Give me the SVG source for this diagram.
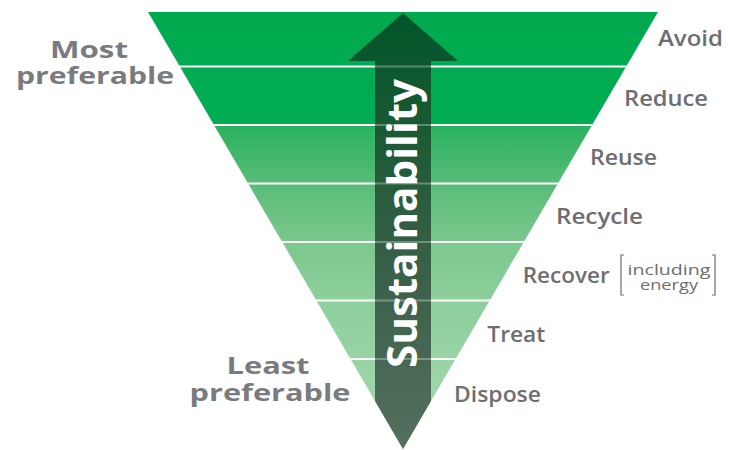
<svg xmlns="http://www.w3.org/2000/svg" width="729" height="450" viewBox="0 0 729 450">
  <defs>
    <linearGradient id="bandFill" gradientUnits="userSpaceOnUse" x1="0" y1="12" x2="0" y2="449">
      <stop offset="0" stop-color="#00a94e"/>
      <stop offset="0.258" stop-color="#00ad54"/>
      <stop offset="0.262" stop-color="#2ab25f"/>
      <stop offset="0.39" stop-color="#58bc77"/>
      <stop offset="0.53" stop-color="#7cc88e"/>
      <stop offset="0.66" stop-color="#8ecf9c"/>
      <stop offset="1" stop-color="#a8dab0"/>
    </linearGradient>
    <linearGradient id="arrowFill" gradientUnits="userSpaceOnUse" x1="0" y1="13" x2="0" y2="449">
      <stop offset="0" stop-color="#00552a"/>
      <stop offset="0.3" stop-color="#1e5a36"/>
      <stop offset="0.6" stop-color="#3b604a"/>
      <stop offset="1" stop-color="#546f5e"/>
    </linearGradient>
    <clipPath id="triClip">
      <polygon points="148,12 658,12 403,449"/>
    </clipPath>
  </defs>
  <style>
    .sep { stroke: #ffffff; stroke-width: 2.2; }
    .sepOver { stroke: #ffffff; stroke-width: 2.2; stroke-opacity: 0.3; }
    .step { font-family: "Open Sans", "DejaVu Sans", sans-serif; font-weight: 600; font-size: 21px; fill: #6d6e71; }
    .note { font-family: "Open Sans", "DejaVu Sans", sans-serif; font-weight: 400; font-size: 14.5px; fill: #6d6e71; }
    .pref { font-family: "Open Sans", "DejaVu Sans", sans-serif; font-weight: 700; font-size: 24px; fill: #7a7b7e; }
    .axis { font-family: "Open Sans", "DejaVu Sans", sans-serif; font-weight: 700; font-size: 42px; fill: #ffffff; }
    .bracket { fill: none; stroke: #6d6e71; stroke-width: 1.2; }
  </style>

  <!-- inverted hierarchy triangle -->
  <g id="hierarchy">
    <polygon points="148,12 658,12 403,449" fill="url(#bandFill)"/>
  </g>

  <!-- band separators -->
  <g id="connectors" clip-path="url(#triClip)">
    <line class="sep" x1="140" y1="66.5" x2="670" y2="66.5"/>
    <line class="sep" x1="140" y1="125" x2="670" y2="125"/>
    <line class="sep" x1="140" y1="183.5" x2="670" y2="183.5"/>
    <line class="sep" x1="140" y1="242" x2="670" y2="242"/>
    <line class="sep" x1="140" y1="300.5" x2="670" y2="300.5"/>
    <line class="sep" x1="140" y1="359" x2="670" y2="359"/>
  </g>

  <!-- upward arrow -->
  <g id="sustainability-arrow">
    <polygon points="403,13 458,61 431,61 431,401 403,449 375,401 375,61 348,61" fill="url(#arrowFill)"/>
    <line class="sepOver" x1="375" y1="66.5" x2="431" y2="66.5"/>
    <line class="sepOver" x1="375" y1="125" x2="431" y2="125"/>
    <line class="sepOver" x1="375" y1="183.5" x2="431" y2="183.5"/>
    <line class="sepOver" x1="375" y1="242" x2="431" y2="242"/>
    <line class="sepOver" x1="375" y1="300.5" x2="431" y2="300.5"/>
    <line class="sepOver" x1="375" y1="359" x2="431" y2="359"/>
    <text class="axis" transform="translate(417,223.5) rotate(-90)" text-anchor="middle" textLength="289" lengthAdjust="spacingAndGlyphs">Sustainability</text>
  </g>

  <!-- step labels -->
  <g id="avoid"><text class="step" x="658" y="46" textLength="65" lengthAdjust="spacingAndGlyphs">Avoid</text></g>
  <g id="reduce"><text class="step" x="624" y="106" textLength="84" lengthAdjust="spacingAndGlyphs">Reduce</text></g>
  <g id="reuse"><text class="step" x="590" y="165" textLength="67" lengthAdjust="spacingAndGlyphs">Reuse</text></g>
  <g id="recycle"><text class="step" x="556" y="224" textLength="87" lengthAdjust="spacingAndGlyphs">Recycle</text></g>
  <g id="recover">
    <text class="step" x="522.7" y="283.3" textLength="87" lengthAdjust="spacingAndGlyphs">Recover</text>
    <path class="bracket" d="M624,255 H621 V295 H624"/>
    <text class="note" x="669" y="275" text-anchor="middle" textLength="83" lengthAdjust="spacingAndGlyphs">including</text>
    <text class="note" x="669" y="290" text-anchor="middle" textLength="58" lengthAdjust="spacingAndGlyphs">energy</text>
    <path class="bracket" d="M712,255 H715 V295 H712"/>
  </g>
  <g id="treat"><text class="step" x="487.3" y="342.3" textLength="58" lengthAdjust="spacingAndGlyphs">Treat</text></g>
  <g id="dispose"><text class="step" x="454" y="401.7" textLength="87" lengthAdjust="spacingAndGlyphs">Dispose</text></g>

  <!-- preference ends -->
  <g id="most-preferable">
    <text class="pref" x="89" y="57.5" text-anchor="middle" textLength="78" lengthAdjust="spacingAndGlyphs">Most</text>
    <text class="pref" x="95" y="84" text-anchor="middle" textLength="158" lengthAdjust="spacingAndGlyphs">preferable</text>
  </g>
  <g id="least-preferable">
    <text class="pref" x="268" y="373.5" text-anchor="middle" textLength="83" lengthAdjust="spacingAndGlyphs">Least</text>
    <text class="pref" x="270" y="400.5" text-anchor="middle" textLength="161" lengthAdjust="spacingAndGlyphs">preferable</text>
  </g>
</svg>
